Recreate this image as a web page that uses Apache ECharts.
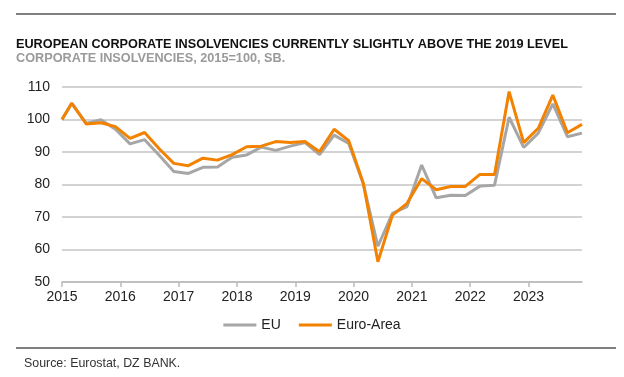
<!DOCTYPE html>
<html>
<head>
<meta charset="utf-8">
<script src="https://cdn.jsdelivr.net/npm/echarts@6/dist/echarts.min.js"></script>
<style>
  html, body { margin: 0; padding: 0; background: #fff; }
  #chart { width: 624px; height: 377px; }
</style>
</head>
<body>
<div id="chart"></div>
<script>
// periods: first value sits at the start of 2015, then one point per quarter
const years = [2015, 2016, 2017, 2018, 2019, 2020, 2021, 2022, 2023]
const quarterMonths = ['03', '06', '09', '12']
const periods = ['2015-01'].concat(years.flatMap(y => quarterMonths.map(m => y + '-' + m)))

const euValues = [100, 105, 98.8, 99.9, 97.0, 92.5, 93.8, 89.0, 84.0, 83.4, 85.3, 85.4, 88.4,
  89.1, 91.5, 90.5, 91.8, 92.9, 89.2, 95.2, 92.6, 80.2, 61.0, 71.1, 73.2, 86.0, 75.9,
  76.7, 76.6, 79.5, 79.8, 100.7, 91.4, 95.8, 104.8, 94.7, 95.8]
const euroAreaValues = [100, 105, 98.6, 99.0, 97.8, 94.2, 96.0, 91.0, 86.5, 85.8, 88.1, 87.5, 89.2,
  91.6, 91.8, 93.2, 92.9, 93.2, 90.1, 97.0, 93.5, 80.4, 56.2, 70.6, 74.2, 81.8, 78.4,
  79.4, 79.4, 83.1, 83.1, 108.6, 92.9, 97.3, 107.5, 95.9, 98.5]

const yTicks = [50, 60, 70, 80, 90, 100, 110]

// 'YYYY-MM' -> decimal year
function toYear (p) {
  let [y, m] = p.split('-').map(Number)
  return y + (m - 1) / 12
}
function pairs (vals) {
  return vals.map((v, i) => [toYear(periods[i]), v])
}

const font = '"Liberation Sans", Arial, sans-serif'
const chart = echarts.init(document.getElementById('chart'), null, { renderer: 'canvas' })

chart.setOption({
  animation: false,
  backgroundColor: '#fff',
  textStyle: { fontFamily: font },
  title: [
    {
      text: 'EUROPEAN CORPORATE INSOLVENCIES CURRENTLY SLIGHTLY ABOVE THE 2019 LEVEL',
      left: 16, top: 38, padding: 0,
      textStyle: { fontFamily: font, fontSize: 12.7, fontWeight: 'bold', color: '#111' }
    },
    {
      text: 'CORPORATE INSOLVENCIES, 2015=100, SB.',
      left: 16, top: 52, padding: 0,
      textStyle: { fontFamily: font, fontSize: 12.7, fontWeight: 'bold', color: '#9a9a9a' }
    },
    {
      text: 'Source: Eurostat, DZ BANK.',
      left: 24, top: 358, padding: 0,
      textStyle: { fontFamily: font, fontSize: 12.4, fontWeight: 'normal', color: '#333' }
    }
  ],
  graphic: [
    { type: 'line', shape: { x1: 16, y1: 14, x2: 616, y2: 14 }, style: { stroke: '#555', lineWidth: 1.5 } },
    { type: 'line', shape: { x1: 16, y1: 348, x2: 616, y2: 348 }, style: { stroke: '#555', lineWidth: 1.5 } }
  ],
  legend: {
    top: 313,
    left: 'center',
    itemWidth: 33,
    itemHeight: 3,
    itemGap: 18,
    icon: 'rect',
    textStyle: { fontFamily: font, fontSize: 14, color: '#222' },
    data: ['EU', 'Euro-Area']
  },
  grid: { left: 62, right: 42, top: 87, bottom: 95, containLabel: false },
  xAxis: {
    type: 'value',
    min: toYear(periods[0]),
    max: toYear(periods[periods.length - 1]),
    axisLine: { lineStyle: { color: '#bbb', width: 1.5 } },
    axisTick: { show: true, length: 5, customValues: years, lineStyle: { color: '#bbb', width: 1.5 } },
    axisLabel: {
      customValues: years,
      color: '#222', fontSize: 14, fontFamily: font, margin: 8,
      formatter: v => String(Math.round(v))
    },
    splitLine: { show: false }
  },
  yAxis: {
    type: 'value',
    min: 50, max: 110, interval: 10,
    axisLine: { show: false },
    axisTick: { show: false },
    axisLabel: {
      customValues: yTicks,
      color: '#222', fontSize: 14, fontFamily: font, margin: 12
    },
    splitLine: { lineStyle: { color: '#c4c4c4', width: 1.5 } }
  },
  series: [
    {
      name: 'EU',
      type: 'line',
      data: pairs(euValues),
      symbol: 'none',
      color: '#a6a6a6',
      lineStyle: { width: 3, color: '#a6a6a6' }
    },
    {
      name: 'Euro-Area',
      type: 'line',
      data: pairs(euroAreaValues),
      symbol: 'none',
      color: '#f28200',
      lineStyle: { width: 3, color: '#f28200' }
    }
  ]
})
</script>
</body>
</html>
